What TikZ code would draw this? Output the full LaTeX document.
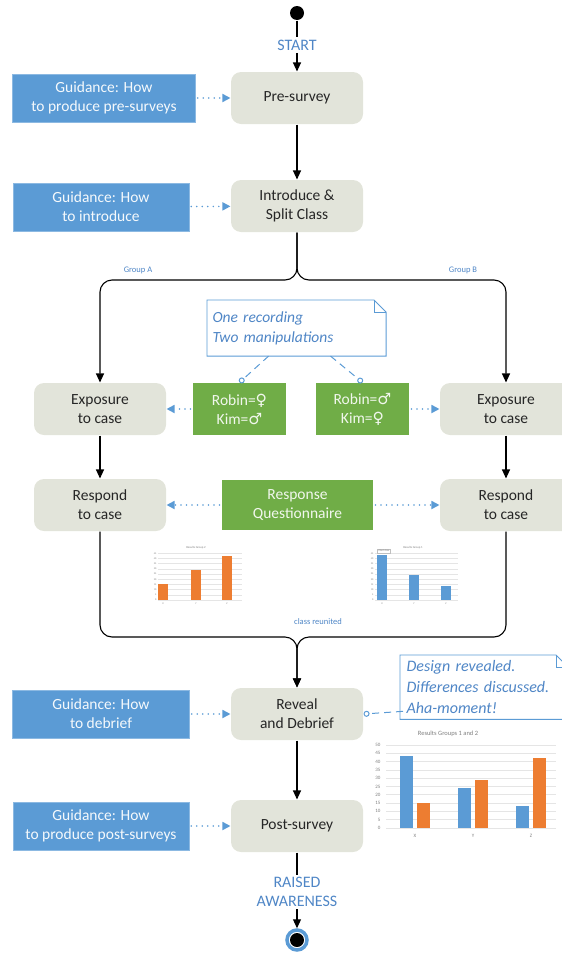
\documentclass[tikz,border=0pt]{standalone}
\usepackage{fontspec}
\setmainfont{Carlito}
\newfontfamily\gendersym{DejaVu Sans}
\usepackage{tikz}
\usetikzlibrary{calc}
\usetikzlibrary{arrows.meta}
\usetikzlibrary{positioning}

\definecolor{stepgray}{HTML}{E2E4DA}
\definecolor{guideblue}{HTML}{5B9BD5}
\definecolor{labelblue}{HTML}{4F86C6}
\definecolor{manigreen}{HTML}{70AD47}
\definecolor{barorange}{HTML}{ED7D31}
\definecolor{chartgray}{HTML}{7F7F7F}

\begin{document}
\begin{tikzpicture}[x=1pt,y=-1pt,line width=1.1pt,>={Triangle[length=9pt,width=8pt]},
	  step node/.style={rectangle,rounded corners=10pt,fill=stepgray,minimum width=132pt,minimum height=52pt,
	    align=center,text=black!85,font=\fontsize{15.5}{19}\selectfont},
	  guide node/.style={rectangle,fill=guideblue,draw=guideblue!70!white,line width=0.6pt,minimum height=48pt,
	    align=center,text=white!94!guideblue,font=\fontsize{15.5}{19}\selectfont},
	  mani node/.style={rectangle,fill=manigreen,minimum width=93pt,minimum height=52pt,
	    align=center,text=white!90!manigreen,font=\fontsize{15.5}{19}\selectfont},
	  note node/.style={rectangle,fill=white,align=left,text=labelblue,inner sep=5pt,anchor=north west},
	  flow label/.style={text=labelblue,align=center,inner sep=2pt,font=\fontsize{16}{19}\selectfont},
	  small label/.style={text=labelblue,inner sep=1pt,font=\fontsize{8.5}{10}\selectfont},
	  guide edge/.style={->,draw=guideblue,line width=1.7pt,line cap=round,dash pattern=on 0pt off 5.5pt,
	    >={Triangle[length=8pt,width=8pt]},shorten <=2pt},
	  note edge/.style={draw=guideblue,line width=1pt,dash pattern=on 7pt off 5pt,-{Circle[open,length=6pt,width=6pt]}},
	  note line/.style={draw=guideblue,line width=0.9pt},
	  tick label/.style={text=chartgray,inner sep=0pt}]

	 \clip (0,0) rectangle (562,956);

	 % main flow
	 \node[circle,fill=black,minimum size=14pt,inner sep=0pt] (start) at (297,13) {};
	 \node[flow label] (startlbl) at (297,45) {START};
	 \node[step node] (pre) at (297,98) {Pre-survey};
	 \node[step node] (intro) at (297,206) {Introduce \&\\Split Class};
	 \node[step node] (expA) at (100,409) {Exposure\\to case};
	 \node[step node] (expB) at (506,409) {Exposure\\to case};
	 \node[step node] (respA) at (100,505) {Respond\\to case};
	 \node[step node] (respB) at (506,505) {Respond\\to case};
	 \node[step node] (reveal) at (297,714) {Reveal\\and Debrief};
	 \node[step node] (post) at (297,826) {Post-survey};
	 \node[flow label] (raised) at (297,892) {RAISED\\AWARENESS};
	 \node[circle,draw=guideblue,line width=3.5pt,fill=white,minimum size=20pt,inner sep=0pt] (endring) at (297,940) {};
	 \node[circle,fill=black,minimum size=14pt,inner sep=0pt] (end) at (297,940) {};

	 % guidance
	 \node[guide node,minimum width=183pt] (gpre) at (104,98) {Guidance: How\\to produce pre-surveys};
	 \node[guide node,minimum width=176pt] (gintro) at (101,207) {Guidance: How\\to introduce};
	 \node[guide node,minimum width=177pt] (gdeb) at (101,714) {Guidance: How\\to debrief};
	 \node[guide node,minimum width=176pt] (gpost) at (101,826) {Guidance: How\\to produce post-surveys};

	 % manipulations
	 \node[mani node] (maniA) at (239.5,409) {Robin={\gendersym ♀}\\Kim={\gendersym ♂}};
	 \node[mani node] (maniB) at (362.5,409) {Robin={\gendersym ♂}\\Kim={\gendersym ♀}};
	 \node[mani node,minimum width=151pt,minimum height=50pt] (quest) at (297.5,505) {Response\\Questionnaire};

	 % notes
	 \node[note node,minimum width=178pt,minimum height=55pt,text width=168pt,font=\fontsize{15.5}{20}\selectfont\itshape] (recnote) at (207,300)
	    {One recording\\Two manipulations};
	 \draw[note line] (recnote.north west) -- ($(recnote.north east)+(-12,0)$) -- ($(recnote.north east)+(0,12)$)
	    -- (recnote.south east) -- (recnote.south west) -- cycle;
	 \draw[note line] ($(recnote.north east)+(-12,0)$) |- ($(recnote.north east)+(0,12)$);
	 \node[note node,minimum width=165pt,minimum height=62pt,text width=155pt,inner xsep=6pt,font=\fontsize{16}{21}\selectfont\itshape] (ahanote) at (400,655)
	    {Design revealed.\\Differences discussed.\\Aha-moment!};
	 \draw[note line] (ahanote.north west) -- ($(ahanote.north east)+(-12,0)$) -- ($(ahanote.north east)+(0,12)$)
	    -- (ahanote.south east) -- (ahanote.south west) -- cycle;
	 \draw[note line] ($(ahanote.north east)+(-12,0)$) |- ($(ahanote.north east)+(0,12)$);

	 \node[small label] (grpA) at (138,270) {Group A};
	 \node[small label] (grpB) at (463,270) {Group B};
	 \node[small label] (reunite) at (318,622) {class reunited};

	 % connectors
	 \path
	    (start) edge (startlbl)
	    (startlbl) edge[->] (pre)
	    (pre) edge[->] (intro)
	    (expA) edge[->] (respA)
	    (expB) edge[->] (respB)
	    (reveal) edge[->] (post)
	    (post) edge (raised)
	    (raised) edge[->] (endring)
;
	 \draw[->,rounded corners=12pt] (intro.south) -- (297,280) -- (100,280) -- (expA.north);
	 \draw[->,rounded corners=12pt] (intro.south) -- (297,280) -- (506,280) -- (expB.north);
	 \draw[->,rounded corners=12pt] (respA.south) -- (100,637) -- (297,637) -- (reveal.north);
	 \draw[->,rounded corners=12pt] (respB.south) -- (506,637) -- (297,637) -- (reveal.north);

	 \path
	    (gpre) edge[guide edge] (pre)
	    (gintro) edge[guide edge] (intro)
	    (gdeb) edge[guide edge] (reveal)
	    (gpost) edge[guide edge] (post)
	    (maniA) edge[guide edge] (expA)
	    (maniB) edge[guide edge] (expB)
	    (quest) edge[guide edge] (respA)
	    (quest) edge[guide edge] (respB)
;
	 \draw[note edge] ($(recnote.south)+(-28,0)$) -- (maniA.north);
	 \draw[note edge] ($(recnote.south)+(34,0)$) -- (maniB.north);
	 \draw[note edge] ($(ahanote.south west)+(3,-8)$) -- (reveal.east);

	 % small chart, group 2
	 \foreach \v in {0,5,...,45}
	    \draw[gray!20,line width=0.3pt] (158,600-1.04*\v) -- (242,600-1.04*\v);
	 \foreach \v in {0,5,...,45}
	    \node[tick label,anchor=east,font=\fontsize{2.5}{3}\selectfont] (tA\v) at (157,600-1.04*\v) {\v};
	 \foreach \x/\v/\c in {163/15/X,196/29/Y,227/42/Z} {
	    \fill[barorange] (\x-5,600) rectangle (\x+5,600-1.04*\v);
	    \node[tick label,font=\fontsize{2.5}{3}\selectfont] (cA\c) at (\x,604) {\c};
	 }
	 \node[tick label,font=\fontsize{3}{4}\selectfont] (ttlA) at (196,548) {Results Group 2};

	 % small chart, group 1
	 \foreach \v in {0,5,...,45}
	    \draw[gray!20,line width=0.3pt] (375,600-1.04*\v) -- (458,600-1.04*\v);
	 \foreach \v in {0,5,...,45}
	    \node[tick label,anchor=east,font=\fontsize{2.5}{3}\selectfont] (tB\v) at (374,600-1.04*\v) {\v};
	 \foreach \x/\v/\c in {382/43/X,414/24/Y,446/13/Z} {
	    \fill[guideblue] (\x-5,600) rectangle (\x+5,600-1.04*\v);
	    \node[tick label,font=\fontsize{2.5}{3}\selectfont] (cB\c) at (\x,604) {\c};
	 }
	 \node[tick label,font=\fontsize{3}{4}\selectfont] (ttlB) at (413,548) {Results Group 1};
	 \node[tick label,draw=gray!50,line width=0.3pt,fill=white,inner sep=1pt,font=\fontsize{2.5}{3}\selectfont] (tip) at (384,551) {Chart Area};

	 % results chart, both groups
	 \foreach \v in {0,5,...,50}
	    \draw[gray!20,line width=0.5pt] (386,828-1.664*\v) -- (556,828-1.664*\v);
	 \foreach \v in {0,5,...,50}
	    \node[tick label,anchor=east,font=\fontsize{5}{6}\selectfont] (tC\v) at (381,828-1.664*\v) {\v};
	 \foreach \x/\a/\b/\c in {415/43/15/X,473/24/29/Y,531/13/42/Z} {
	    \fill[guideblue] (\x-15,828) rectangle (\x-2,828-1.664*\a);
	    \fill[barorange] (\x+2,828) rectangle (\x+15,828-1.664*\b);
	    \node[tick label,font=\fontsize{5}{6}\selectfont] (cC\c) at (\x,836) {\c};
	 }
	 \node[tick label,font=\fontsize{6.5}{8}\selectfont] (ttlC) at (448,734) {Results Groups 1 and 2};
	\end{tikzpicture}
\end{document}
